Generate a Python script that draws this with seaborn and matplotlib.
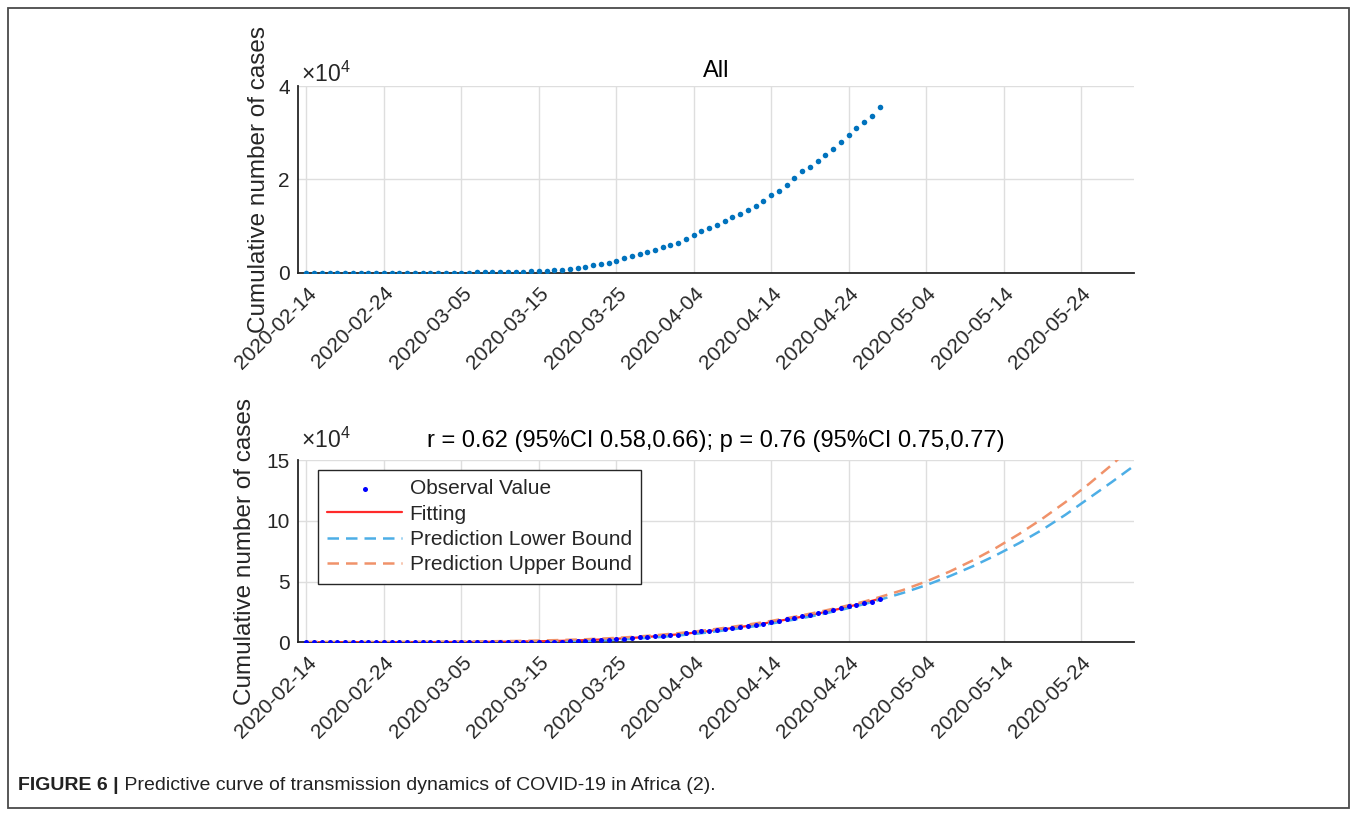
import numpy as np
import pandas as pd
import matplotlib
matplotlib.use("Agg")
import matplotlib.pyplot as plt
from matplotlib.ticker import FuncFormatter
from matplotlib.patches import Rectangle
from matplotlib.transforms import ScaledTranslation
import seaborn as sns

# ---------------- data ----------------
start_date = "2020-02-14"
obs_cases = [1, 1, 1, 1, 1, 1, 1, 1, 1, 1, 1,
             2, 3, 4, 5, 6, 8, 12, 16, 22, 30,
             40, 55, 70, 95, 120, 150, 180, 220, 280, 350,
             430, 520, 650, 800, 1000, 1250, 1550, 1850, 2150, 2500,
             3100, 3600, 3950, 4500, 4950, 5500, 5950, 6400, 7300, 8100,
             8900, 9600, 10300, 11100, 11850, 12600, 13350, 14300, 15400, 16600,
             17600, 18800, 20300, 21700, 22700, 23900, 25200, 26500, 28000, 29600,
             30900, 32200, 33500, 35400]

fit_day = [0, 3, 6, 9, 12, 15, 18, 21, 24, 27, 30, 33, 36, 39, 42, 45, 48,
           51, 54, 57, 60, 63, 66, 69, 72, 74]
fit_cases = [150, 150, 150, 150, 170, 200, 250, 320, 420, 600, 870, 1250, 1800,
             2550, 3600, 4900, 6550, 8500, 10850, 13500, 16500, 19850, 23600,
             27800, 32450, 35800]

pred_day = [0, 3, 6, 9, 12, 15, 18, 21, 24, 27, 30, 33, 36, 39, 42, 45, 48,
            51, 54, 57, 60, 63, 66, 69, 72, 74, 77, 80, 83, 86, 89, 92, 95,
            98, 101, 104, 107]
pred_lower = [0, 0, 0, 0, 0, 0, 0, 0, 0, 100, 300, 600, 1100, 1800, 2800, 4000,
              5600, 7500, 9800, 12400, 15400, 18700, 22400, 26600, 31400, 35000,
              40600, 47000, 54300, 62500, 71600, 81600, 92600, 105000, 118500,
              132000, 146000]
pred_upper = [300, 300, 300, 300, 350, 400, 500, 650, 850, 1100, 1450, 1900,
              2500, 3300, 4400, 5800, 7500, 9500, 11900, 14600, 17600, 21000,
              24800, 29000, 33500, 37200, 43000, 50000, 58100, 67300, 77600,
              89100, 101700, 115400, 130200, 146200, 163300]

tick_labels = ["2020-02-14", "2020-02-24", "2020-03-05", "2020-03-15",
               "2020-03-25", "2020-04-04", "2020-04-14", "2020-04-24",
               "2020-05-04", "2020-05-14", "2020-05-24"]
top_yticks = [0, 20000, 40000]
bottom_yticks = [0, 50000, 100000, 150000]

top_title = "All"
bottom_title = "r = 0.62 (95%CI 0.58,0.66); p = 0.76 (95%CI 0.75,0.77)"
legend_labels = ["Observal Value", "Fitting", "Prediction Lower Bound",
                 "Prediction Upper Bound"]
y_label = "Cumulative number of cases"
caption_bold = "FIGURE 6 |"
caption_text = " Predictive curve of transmission dynamics of COVID-19 in Africa (2)."

# ---------------- style ----------------
sns.set_theme(style="whitegrid")
plt.rcParams["font.family"] = ["Liberation Sans", "DejaVu Sans"]
plt.rcParams["mathtext.fontset"] = "custom"
plt.rcParams["mathtext.rm"] = "Liberation Sans"
plt.rcParams["mathtext.it"] = "Liberation Sans:italic"

TXT = "#262626"
W, H = 1357, 816
fig = plt.figure(figsize=(W / 100, H / 100), dpi=100)
fig.patch.set_facecolor("white")


def px_axes(l, t, r, b):
    return fig.add_axes([l / W, 1 - b / H, (r - l) / W, (b - t) / H])


ax1 = px_axes(298, 86, 1134, 272.7)
ax2 = px_axes(298, 460, 1134, 642.3)

base = pd.Timestamp(start_date)
obs_df = pd.DataFrame({"date": base + pd.to_timedelta(range(len(obs_cases)), unit="D"),
                       "cases": obs_cases})
fit_df = pd.DataFrame({"date": base + pd.to_timedelta(fit_day, unit="D"),
                       "cases": fit_cases})
pred_df = pd.DataFrame({"date": base + pd.to_timedelta(pred_day, unit="D"),
                        "lower": pred_lower, "upper": pred_upper})

# top panel
sns.scatterplot(data=obs_df, x="date", y="cases", ax=ax1, color="#0072BD",
                s=16, linewidth=0, zorder=3)

# bottom panel
sns.scatterplot(data=obs_df, x="date", y="cases", ax=ax2, color="#0000FF",
                s=13, linewidth=0, zorder=5, label=legend_labels[0])
sns.lineplot(data=fit_df, x="date", y="cases", ax=ax2, color="#FF2A2A",
             lw=1.6, label=legend_labels[1], zorder=4)
sns.lineplot(data=pred_df, x="date", y="lower", ax=ax2, color="#4DAEE6",
             lw=1.8, linestyle="--", label=legend_labels[2], zorder=4)
sns.lineplot(data=pred_df, x="date", y="upper", ax=ax2, color="#F0926A",
             lw=1.8, linestyle="--", label=legend_labels[3], zorder=4)
for ln in ax2.get_lines()[1:]:
    ln.set_dashes([4.6, 2.8])

xmin = pd.Timestamp("2020-02-12 22:00")
xmax = pd.Timestamp("2020-05-30 20:00")
fmt = FuncFormatter(lambda v, p: f"{v / 1e4:g}")
shift = ScaledTranslation(7 / 100, 2 / 100, fig.dpi_scale_trans)

for ax, yt, ylim, exp_y in [(ax1, top_yticks, (0, 40000), 1.021),
                            (ax2, bottom_yticks, (0, 150000), 1.066)]:
    ax.set_xlim(xmin, xmax)
    ax.set_ylim(*ylim)
    ax.set_yticks(yt)
    ax.yaxis.set_major_formatter(fmt)
    ax.set_xticks(pd.to_datetime(tick_labels))
    ax.set_xticklabels(tick_labels, rotation=45, ha="right", va="center",
                       rotation_mode="anchor")
    ax.tick_params(axis="both", direction="in", length=5, width=1.2,
                   color=TXT, labelsize=15, labelcolor=TXT)
    ax.tick_params(axis="x", pad=14)
    ax.tick_params(axis="y", pad=6)
    for lab in ax.get_xticklabels():
        lab.set_transform(lab.get_transform() + shift)
    for s in ["top", "right"]:
        ax.spines[s].set_visible(False)
    for s in ["left", "bottom"]:
        ax.spines[s].set_color(TXT)
        ax.spines[s].set_linewidth(1.3)
    ax.grid(True, color="#DEDEDE", lw=1.0)
    ax.set_xlabel("")
    ax.set_ylabel(y_label, fontsize=17.5, color=TXT)
    ax.text(0.003, exp_y, r"$\times10^{4}$", transform=ax.transAxes,
            fontsize=16.5, color=TXT, ha="left", va="baseline")
    ax.set_facecolor("white")

ax1.yaxis.set_label_coords(-0.0335, 0.5)
ax2.yaxis.set_label_coords(-0.050, 0.5)

ax1.set_title(top_title, fontsize=17, color="black", pad=6.5)
ax2.set_title(bottom_title, fontsize=17, color="black", pad=9.5)

leg = ax2.legend(loc="upper left", bbox_to_anchor=(0.024, 0.945), fontsize=15,
                 frameon=True, fancybox=False, framealpha=1, edgecolor="#262626",
                 handlelength=3.6, handletextpad=0.35, borderpad=0.45,
                 labelspacing=0.3, borderaxespad=0, markerscale=1.0)
leg.get_frame().set_linewidth(1.0)
for t in leg.get_texts():
    t.set_color(TXT)

# outer frame
fig.add_artist(Rectangle((8 / W, 1 - 808 / H), 1341 / W, 800 / H,
                         transform=fig.transFigure, fill=False,
                         edgecolor="#4A4A4A", lw=1.3))

# caption
cap_font = ["Liberation Sans", "DejaVu Sans"]
t1 = fig.text(18 / W, 1 - 786 / H, caption_bold, fontsize=14, fontweight="bold",
              color="#222222", va="center", ha="left", family=cap_font)
fig.canvas.draw()
bb = t1.get_window_extent()
fig.text(bb.x1 / W, 1 - 786 / H, caption_text, fontsize=14, color="#222222",
         va="center", ha="left", family=cap_font)

fig.savefig("out.png", dpi=100, facecolor="white")
